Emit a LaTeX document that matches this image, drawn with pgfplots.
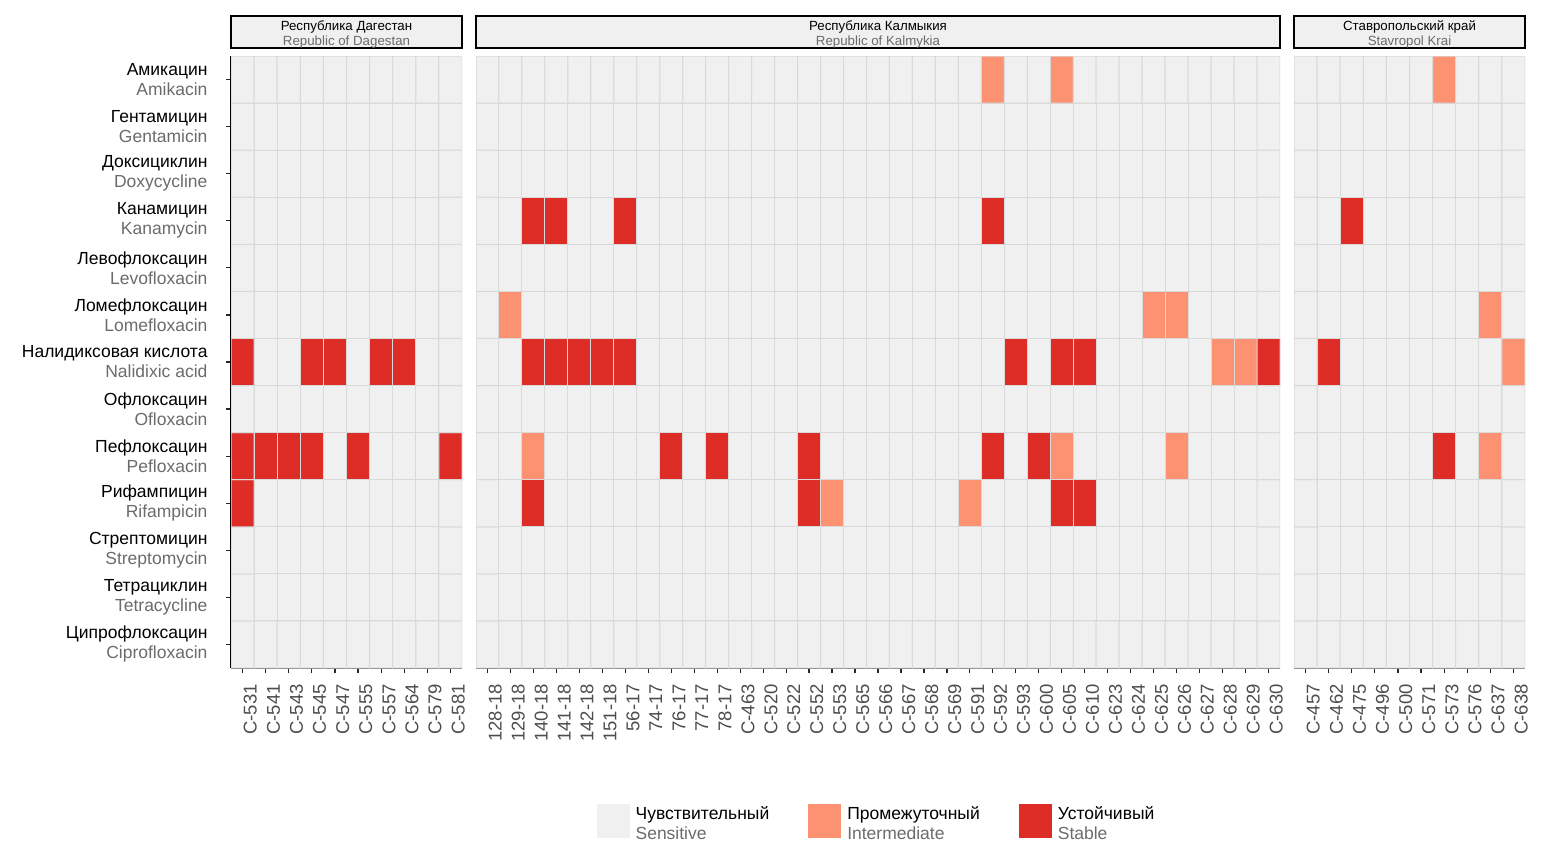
\documentclass[border=0pt]{standalone}
\usepackage{fontspec}
\setmainfont{Liberation Sans}
\usepackage{pgfplots}
\pgfplotsset{compat=1.18}

\definecolor{sens}{HTML}{F0F0F0}
\definecolor{inter}{HTML}{FC9272}
\definecolor{stab}{HTML}{DE2D26}
\definecolor{tile}{HTML}{D9D9D9}
\definecolor{engl}{HTML}{6B6B6B}
\definecolor{ticklab}{HTML}{4D4D4D}

\newcommand{\two}[2]{#1\\\textcolor{engl}{#2}}
\newcommand{\lgd}[2]{\begin{tabular}[t]{@{}l@{}}#1\\\textcolor{engl}{#2}\end{tabular}}
\newcommand{\bigfont}{\fontsize{17.5}{20}\selectfont}

\pgfplotsset{
  panel/.style={
    scale only axis,
    height=612pt,
    xmin=-0.5, ymin=-0.5, ymax=12.5,
    colormap={status}{rgb255=(240,240,240) rgb255=(252,146,114) rgb255=(222,45,38)},
    point meta min=0, point meta max=2,
    axis x line*=bottom,
    axis line style={line width=1.5pt, black},
    tick align=outside,
    major tick length=5pt,
    tick style={line width=1.2pt, black!85},
    xticklabel shift=10pt,
    xticklabel style={rotate=90, anchor=north east, inner sep=1pt, text=ticklab,
      font=\fontsize{18.5}{20}\selectfont},
  },
  cells/.style={matrix plot*, point meta=explicit, draw=tile, line width=1pt, forget plot},
  sqlegend/.style={legend image code/.code={
    \fill[#1, draw=none] (0pt,-35pt) rectangle (33pt,-1pt);
    \path[draw=none, fill=none] (33pt,-18pt) -- (37pt,-18pt);}},
}

\begin{document}
\begin{tikzpicture}
\useasboundingbox (0,0) rectangle (1568pt,-849pt);

% Republic of Dagestan
\begin{axis}[panel, name=dag, at={(231pt,-56pt)}, anchor=north west,
  width=231pt, xmax=9.5,
  axis y line*=left,
  xtick={0,...,9},
  xticklabels={C-531,C-541,C-543,C-545,C-547,C-555,C-557,C-564,C-579,C-581},
  ytick={0,...,12},
  yticklabels={{\two{Ципрофлоксацин}{Ciprofloxacin}},{\two{Тетрациклин}{Tetracycline}},
    {\two{Стрептомицин}{Streptomycin}},{\two{Рифампицин}{Rifampicin}},
    {\two{Пефлоксацин}{Pefloxacin}},{\two{Офлоксацин}{Ofloxacin}},
    {\two{Налидиксовая кислота}{Nalidixic acid}},{\two{Ломефлоксацин}{Lomefloxacin}},
    {\two{Левофлоксацин}{Levofloxacin}},{\two{Канамицин}{Kanamycin}},
    {\two{Доксициклин}{Doxycycline}},{\two{Гентамицин}{Gentamicin}},
    {\two{Амикацин}{Amikacin}}},
  yticklabel style={align=right, font=\bigfont, xshift=-15pt},
]
\addplot[cells, mesh/cols=10] coordinates {
(0,0)[0] (1,0)[0] (2,0)[0] (3,0)[0] (4,0)[0] (5,0)[0] (6,0)[0] (7,0)[0] (8,0)[0] (9,0)[0]
(0,1)[0] (1,1)[0] (2,1)[0] (3,1)[0] (4,1)[0] (5,1)[0] (6,1)[0] (7,1)[0] (8,1)[0] (9,1)[0]
(0,2)[0] (1,2)[0] (2,2)[0] (3,2)[0] (4,2)[0] (5,2)[0] (6,2)[0] (7,2)[0] (8,2)[0] (9,2)[0]
(0,3)[2] (1,3)[0] (2,3)[0] (3,3)[0] (4,3)[0] (5,3)[0] (6,3)[0] (7,3)[0] (8,3)[0] (9,3)[0]
(0,4)[2] (1,4)[2] (2,4)[2] (3,4)[2] (4,4)[0] (5,4)[2] (6,4)[0] (7,4)[0] (8,4)[0] (9,4)[2]
(0,5)[0] (1,5)[0] (2,5)[0] (3,5)[0] (4,5)[0] (5,5)[0] (6,5)[0] (7,5)[0] (8,5)[0] (9,5)[0]
(0,6)[2] (1,6)[0] (2,6)[0] (3,6)[2] (4,6)[2] (5,6)[0] (6,6)[2] (7,6)[2] (8,6)[0] (9,6)[0]
(0,7)[0] (1,7)[0] (2,7)[0] (3,7)[0] (4,7)[0] (5,7)[0] (6,7)[0] (7,7)[0] (8,7)[0] (9,7)[0]
(0,8)[0] (1,8)[0] (2,8)[0] (3,8)[0] (4,8)[0] (5,8)[0] (6,8)[0] (7,8)[0] (8,8)[0] (9,8)[0]
(0,9)[0] (1,9)[0] (2,9)[0] (3,9)[0] (4,9)[0] (5,9)[0] (6,9)[0] (7,9)[0] (8,9)[0] (9,9)[0]
(0,10)[0] (1,10)[0] (2,10)[0] (3,10)[0] (4,10)[0] (5,10)[0] (6,10)[0] (7,10)[0] (8,10)[0] (9,10)[0]
(0,11)[0] (1,11)[0] (2,11)[0] (3,11)[0] (4,11)[0] (5,11)[0] (6,11)[0] (7,11)[0] (8,11)[0] (9,11)[0]
(0,12)[0] (1,12)[0] (2,12)[0] (3,12)[0] (4,12)[0] (5,12)[0] (6,12)[0] (7,12)[0] (8,12)[0] (9,12)[0]
};
\end{axis}

% Republic of Kalmykia
\begin{axis}[panel, name=kal, at={(476pt,-56pt)}, anchor=north west,
  width=804pt, xmax=34.5,
  axis y line=none,
  xtick={0,...,34},
  xticklabels={128-18,129-18,140-18,141-18,142-18,151-18,56-17,74-17,76-17,77-17,78-17,
    C-463,C-520,C-522,C-552,C-553,C-565,C-566,C-567,C-568,C-569,C-591,C-592,C-593,
    C-600,C-605,C-610,C-623,C-624,C-625,C-626,C-627,C-628,C-629,C-630},
  legend style={at={(0.5,-0.2167)}, anchor=north, xshift=-1.5pt, draw=none, fill=none,
    legend columns=3,
    /tikz/every even column/.append style={column sep=37pt},
    font=\bigfont},
]
\addplot[cells, mesh/cols=35] coordinates {
(0,0)[0] (1,0)[0] (2,0)[0] (3,0)[0] (4,0)[0] (5,0)[0] (6,0)[0] (7,0)[0] (8,0)[0] (9,0)[0] (10,0)[0] (11,0)[0] (12,0)[0] (13,0)[0] (14,0)[0] (15,0)[0] (16,0)[0] (17,0)[0] (18,0)[0] (19,0)[0] (20,0)[0] (21,0)[0] (22,0)[0] (23,0)[0] (24,0)[0] (25,0)[0] (26,0)[0] (27,0)[0] (28,0)[0] (29,0)[0] (30,0)[0] (31,0)[0] (32,0)[0] (33,0)[0] (34,0)[0]
(0,1)[0] (1,1)[0] (2,1)[0] (3,1)[0] (4,1)[0] (5,1)[0] (6,1)[0] (7,1)[0] (8,1)[0] (9,1)[0] (10,1)[0] (11,1)[0] (12,1)[0] (13,1)[0] (14,1)[0] (15,1)[0] (16,1)[0] (17,1)[0] (18,1)[0] (19,1)[0] (20,1)[0] (21,1)[0] (22,1)[0] (23,1)[0] (24,1)[0] (25,1)[0] (26,1)[0] (27,1)[0] (28,1)[0] (29,1)[0] (30,1)[0] (31,1)[0] (32,1)[0] (33,1)[0] (34,1)[0]
(0,2)[0] (1,2)[0] (2,2)[0] (3,2)[0] (4,2)[0] (5,2)[0] (6,2)[0] (7,2)[0] (8,2)[0] (9,2)[0] (10,2)[0] (11,2)[0] (12,2)[0] (13,2)[0] (14,2)[0] (15,2)[0] (16,2)[0] (17,2)[0] (18,2)[0] (19,2)[0] (20,2)[0] (21,2)[0] (22,2)[0] (23,2)[0] (24,2)[0] (25,2)[0] (26,2)[0] (27,2)[0] (28,2)[0] (29,2)[0] (30,2)[0] (31,2)[0] (32,2)[0] (33,2)[0] (34,2)[0]
(0,3)[0] (1,3)[0] (2,3)[2] (3,3)[0] (4,3)[0] (5,3)[0] (6,3)[0] (7,3)[0] (8,3)[0] (9,3)[0] (10,3)[0] (11,3)[0] (12,3)[0] (13,3)[0] (14,3)[2] (15,3)[1] (16,3)[0] (17,3)[0] (18,3)[0] (19,3)[0] (20,3)[0] (21,3)[1] (22,3)[0] (23,3)[0] (24,3)[0] (25,3)[2] (26,3)[2] (27,3)[0] (28,3)[0] (29,3)[0] (30,3)[0] (31,3)[0] (32,3)[0] (33,3)[0] (34,3)[0]
(0,4)[0] (1,4)[0] (2,4)[1] (3,4)[0] (4,4)[0] (5,4)[0] (6,4)[0] (7,4)[0] (8,4)[2] (9,4)[0] (10,4)[2] (11,4)[0] (12,4)[0] (13,4)[0] (14,4)[2] (15,4)[0] (16,4)[0] (17,4)[0] (18,4)[0] (19,4)[0] (20,4)[0] (21,4)[0] (22,4)[2] (23,4)[0] (24,4)[2] (25,4)[1] (26,4)[0] (27,4)[0] (28,4)[0] (29,4)[0] (30,4)[1] (31,4)[0] (32,4)[0] (33,4)[0] (34,4)[0]
(0,5)[0] (1,5)[0] (2,5)[0] (3,5)[0] (4,5)[0] (5,5)[0] (6,5)[0] (7,5)[0] (8,5)[0] (9,5)[0] (10,5)[0] (11,5)[0] (12,5)[0] (13,5)[0] (14,5)[0] (15,5)[0] (16,5)[0] (17,5)[0] (18,5)[0] (19,5)[0] (20,5)[0] (21,5)[0] (22,5)[0] (23,5)[0] (24,5)[0] (25,5)[0] (26,5)[0] (27,5)[0] (28,5)[0] (29,5)[0] (30,5)[0] (31,5)[0] (32,5)[0] (33,5)[0] (34,5)[0]
(0,6)[0] (1,6)[0] (2,6)[2] (3,6)[2] (4,6)[2] (5,6)[2] (6,6)[2] (7,6)[0] (8,6)[0] (9,6)[0] (10,6)[0] (11,6)[0] (12,6)[0] (13,6)[0] (14,6)[0] (15,6)[0] (16,6)[0] (17,6)[0] (18,6)[0] (19,6)[0] (20,6)[0] (21,6)[0] (22,6)[0] (23,6)[2] (24,6)[0] (25,6)[2] (26,6)[2] (27,6)[0] (28,6)[0] (29,6)[0] (30,6)[0] (31,6)[0] (32,6)[1] (33,6)[1] (34,6)[2]
(0,7)[0] (1,7)[1] (2,7)[0] (3,7)[0] (4,7)[0] (5,7)[0] (6,7)[0] (7,7)[0] (8,7)[0] (9,7)[0] (10,7)[0] (11,7)[0] (12,7)[0] (13,7)[0] (14,7)[0] (15,7)[0] (16,7)[0] (17,7)[0] (18,7)[0] (19,7)[0] (20,7)[0] (21,7)[0] (22,7)[0] (23,7)[0] (24,7)[0] (25,7)[0] (26,7)[0] (27,7)[0] (28,7)[0] (29,7)[1] (30,7)[1] (31,7)[0] (32,7)[0] (33,7)[0] (34,7)[0]
(0,8)[0] (1,8)[0] (2,8)[0] (3,8)[0] (4,8)[0] (5,8)[0] (6,8)[0] (7,8)[0] (8,8)[0] (9,8)[0] (10,8)[0] (11,8)[0] (12,8)[0] (13,8)[0] (14,8)[0] (15,8)[0] (16,8)[0] (17,8)[0] (18,8)[0] (19,8)[0] (20,8)[0] (21,8)[0] (22,8)[0] (23,8)[0] (24,8)[0] (25,8)[0] (26,8)[0] (27,8)[0] (28,8)[0] (29,8)[0] (30,8)[0] (31,8)[0] (32,8)[0] (33,8)[0] (34,8)[0]
(0,9)[0] (1,9)[0] (2,9)[2] (3,9)[2] (4,9)[0] (5,9)[0] (6,9)[2] (7,9)[0] (8,9)[0] (9,9)[0] (10,9)[0] (11,9)[0] (12,9)[0] (13,9)[0] (14,9)[0] (15,9)[0] (16,9)[0] (17,9)[0] (18,9)[0] (19,9)[0] (20,9)[0] (21,9)[0] (22,9)[2] (23,9)[0] (24,9)[0] (25,9)[0] (26,9)[0] (27,9)[0] (28,9)[0] (29,9)[0] (30,9)[0] (31,9)[0] (32,9)[0] (33,9)[0] (34,9)[0]
(0,10)[0] (1,10)[0] (2,10)[0] (3,10)[0] (4,10)[0] (5,10)[0] (6,10)[0] (7,10)[0] (8,10)[0] (9,10)[0] (10,10)[0] (11,10)[0] (12,10)[0] (13,10)[0] (14,10)[0] (15,10)[0] (16,10)[0] (17,10)[0] (18,10)[0] (19,10)[0] (20,10)[0] (21,10)[0] (22,10)[0] (23,10)[0] (24,10)[0] (25,10)[0] (26,10)[0] (27,10)[0] (28,10)[0] (29,10)[0] (30,10)[0] (31,10)[0] (32,10)[0] (33,10)[0] (34,10)[0]
(0,11)[0] (1,11)[0] (2,11)[0] (3,11)[0] (4,11)[0] (5,11)[0] (6,11)[0] (7,11)[0] (8,11)[0] (9,11)[0] (10,11)[0] (11,11)[0] (12,11)[0] (13,11)[0] (14,11)[0] (15,11)[0] (16,11)[0] (17,11)[0] (18,11)[0] (19,11)[0] (20,11)[0] (21,11)[0] (22,11)[0] (23,11)[0] (24,11)[0] (25,11)[0] (26,11)[0] (27,11)[0] (28,11)[0] (29,11)[0] (30,11)[0] (31,11)[0] (32,11)[0] (33,11)[0] (34,11)[0]
(0,12)[0] (1,12)[0] (2,12)[0] (3,12)[0] (4,12)[0] (5,12)[0] (6,12)[0] (7,12)[0] (8,12)[0] (9,12)[0] (10,12)[0] (11,12)[0] (12,12)[0] (13,12)[0] (14,12)[0] (15,12)[0] (16,12)[0] (17,12)[0] (18,12)[0] (19,12)[0] (20,12)[0] (21,12)[0] (22,12)[1] (23,12)[0] (24,12)[0] (25,12)[1] (26,12)[0] (27,12)[0] (28,12)[0] (29,12)[0] (30,12)[0] (31,12)[0] (32,12)[0] (33,12)[0] (34,12)[0]
};
\addlegendimage{sqlegend=sens}
\addlegendentry{\lgd{Чувствительный}{Sensitive}}
\addlegendimage{sqlegend=inter}
\addlegendentry{\lgd{Промежуточный}{Intermediate}}
\addlegendimage{sqlegend=stab}
\addlegendentry{\lgd{Устойчивый}{Stable}}
\end{axis}

% Stavropol Krai
\begin{axis}[panel, name=sta, at={(1294pt,-56pt)}, anchor=north west,
  width=231pt, xmax=9.5,
  axis y line=none,
  xtick={0,...,9},
  xticklabels={C-457,C-462,C-475,C-496,C-500,C-571,C-573,C-576,C-637,C-638},
]
\addplot[cells, mesh/cols=10] coordinates {
(0,0)[0] (1,0)[0] (2,0)[0] (3,0)[0] (4,0)[0] (5,0)[0] (6,0)[0] (7,0)[0] (8,0)[0] (9,0)[0]
(0,1)[0] (1,1)[0] (2,1)[0] (3,1)[0] (4,1)[0] (5,1)[0] (6,1)[0] (7,1)[0] (8,1)[0] (9,1)[0]
(0,2)[0] (1,2)[0] (2,2)[0] (3,2)[0] (4,2)[0] (5,2)[0] (6,2)[0] (7,2)[0] (8,2)[0] (9,2)[0]
(0,3)[0] (1,3)[0] (2,3)[0] (3,3)[0] (4,3)[0] (5,3)[0] (6,3)[0] (7,3)[0] (8,3)[0] (9,3)[0]
(0,4)[0] (1,4)[0] (2,4)[0] (3,4)[0] (4,4)[0] (5,4)[0] (6,4)[2] (7,4)[0] (8,4)[1] (9,4)[0]
(0,5)[0] (1,5)[0] (2,5)[0] (3,5)[0] (4,5)[0] (5,5)[0] (6,5)[0] (7,5)[0] (8,5)[0] (9,5)[0]
(0,6)[0] (1,6)[2] (2,6)[0] (3,6)[0] (4,6)[0] (5,6)[0] (6,6)[0] (7,6)[0] (8,6)[0] (9,6)[1]
(0,7)[0] (1,7)[0] (2,7)[0] (3,7)[0] (4,7)[0] (5,7)[0] (6,7)[0] (7,7)[0] (8,7)[1] (9,7)[0]
(0,8)[0] (1,8)[0] (2,8)[0] (3,8)[0] (4,8)[0] (5,8)[0] (6,8)[0] (7,8)[0] (8,8)[0] (9,8)[0]
(0,9)[0] (1,9)[0] (2,9)[2] (3,9)[0] (4,9)[0] (5,9)[0] (6,9)[0] (7,9)[0] (8,9)[0] (9,9)[0]
(0,10)[0] (1,10)[0] (2,10)[0] (3,10)[0] (4,10)[0] (5,10)[0] (6,10)[0] (7,10)[0] (8,10)[0] (9,10)[0]
(0,11)[0] (1,11)[0] (2,11)[0] (3,11)[0] (4,11)[0] (5,11)[0] (6,11)[0] (7,11)[0] (8,11)[0] (9,11)[0]
(0,12)[0] (1,12)[0] (2,12)[0] (3,12)[0] (4,12)[0] (5,12)[0] (6,12)[1] (7,12)[0] (8,12)[0] (9,12)[0]
};
\end{axis}

% facet strips
\foreach \n/\ru/\en in {dag/Республика Дагестан/Republic of Dagestan,
    kal/Республика Калмыкия/Republic of Kalmykia,
    sta/Ставропольский край/Stavropol Krai} {
  \draw[line width=2pt, fill=sens] ([yshift=8pt]\n.north west) rectangle ([yshift=40pt]\n.north east);
  \node[align=center, font=\fontsize{13.3}{15}\selectfont] at ([yshift=21.5pt]\n.north) {\ru\\\textcolor{engl}{\en}};
}
\end{tikzpicture}
\end{document}
